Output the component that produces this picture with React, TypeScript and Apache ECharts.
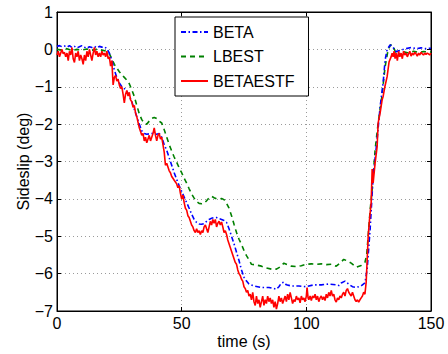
import React, { useEffect, useRef } from "react";
import * as echarts from "echarts";

const X_TICKS = [0, 50, 100, 150];
const Y_MIN = -7;
const Y_MAX = 1;

const BETA: [number, number][] = [
  [0, 0.08], [1, 0.1], [2, 0.07], [3, 0.09], [4, 0.06], [5, 0.1], [6, 0.05], [7, 0.08], [8, 0.04], [9, 0.07],
  [10, 0.1], [11, 0.06], [12, 0.03], [13, 0.07], [14, 0.05], [15, 0.08], [16, 0.04], [17, 0.08], [18, 0.06],
  [19, 0.07], [20, 0.02], [21, -0.1], [22, -0.3], [23, -0.55], [24, -0.75], [25, -0.9], [26, -1.0], [27, -1.05],
  [28, -1.12], [29, -1.25], [30, -1.4], [31, -1.6], [32, -1.8], [33, -2.0], [34, -2.18], [35, -2.25], [36, -2.27],
  [38, -2.25], [40, -2.27], [41, -2.25], [42, -2.35], [43, -2.55], [44, -2.7], [45, -2.9], [46, -3.1], [47, -3.3],
  [48, -3.48], [49, -3.65], [50, -3.8], [51, -3.95], [52, -4.1], [53, -4.25], [54, -4.41], [55, -4.55], [56, -4.63],
  [57, -4.67], [58, -4.68], [59, -4.66], [60, -4.6], [61, -4.55], [62, -4.52], [63, -4.5], [64, -4.5], [65, -4.53],
  [66, -4.55], [67, -4.58], [68, -4.63], [69, -4.8], [70, -5.0], [71, -5.2], [72, -5.43], [73, -5.65], [74, -5.9],
  [75, -6.1], [76, -6.2], [77, -6.28], [79, -6.33], [82, -6.37], [85, -6.37], [87, -6.4], [88, -6.42], [89, -6.35],
  [90, -6.25], [91, -6.23], [92, -6.3], [94, -6.33], [97, -6.33], [100, -6.35], [103, -6.3], [106, -6.3],
  [109, -6.28], [112, -6.3], [113, -6.32], [114, -6.25], [115.5, -6.2], [117, -6.28], [118.5, -6.35], [120, -6.37],
  [122, -6.33], [123.5, -6.25], [124.4, -5.88], [125.6, -4.8], [126.8, -3.4], [128.4, -2.4], [129.6, -1.53],
  [130.8, -0.9], [131.6, -0.28], [132.4, -0.01], [133.6, 0.12], [134.5, 0.08], [136, -0.06], [138, -0.02],
  [140, 0.02], [142, 0.05], [144, 0.02], [146, 0.04], [148, 0.02], [150, 0.03],
];

const LBEST: [number, number][] = [
  [0, 0.0], [2, -0.02], [4, 0.02], [6, -0.03], [8, 0.0], [10, -0.02], [12, 0.01], [14, -0.02], [16, 0.0],
  [18, -0.02], [20, -0.05], [21, -0.12], [22, -0.25], [23, -0.4], [24, -0.5], [25, -0.6], [26, -0.68], [27, -0.75],
  [28, -0.82], [29, -0.92], [30, -1.08], [31, -1.26], [32, -1.5], [33, -1.72], [34, -1.88], [35, -1.98], [36, -2.0],
  [37, -1.92], [38, -1.85], [39, -1.82], [40, -1.85], [41, -1.92], [42, -1.97], [43, -2.15], [44, -2.35],
  [45, -2.55], [46, -2.72], [47, -2.88], [48, -3.02], [49, -3.17], [50, -3.3], [51, -3.45], [52, -3.58],
  [53, -3.73], [54, -3.87], [55, -3.98], [56, -4.07], [57, -4.12], [58, -4.13], [59, -4.12], [60, -4.05],
  [61, -3.97], [62, -3.93], [63, -3.97], [64, -4.0], [65, -4.0], [66, -3.99], [67, -4.02], [68, -4.12],
  [69, -4.25], [70, -4.45], [71, -4.68], [72, -4.9], [73, -5.08], [74, -5.22], [75, -5.38], [76, -5.52],
  [77, -5.63], [78, -5.75], [80, -5.77], [82, -5.8], [84, -5.85], [86, -5.88], [88, -5.88], [89.5, -5.82],
  [91, -5.72], [92.5, -5.76], [94, -5.8], [96, -5.81], [98, -5.79], [100, -5.75], [102, -5.74], [104, -5.75],
  [106, -5.74], [108, -5.76], [110, -5.75], [112, -5.8], [113.5, -5.72], [115, -5.62], [116.5, -5.66],
  [118, -5.72], [120, -5.83], [122, -5.78], [123.5, -5.7], [124.2, -5.5], [124.8, -5.0], [125.6, -4.3],
  [126.4, -3.75], [127.6, -2.68], [128.8, -1.97], [130.3, -1.26], [131.6, -0.46], [132.8, -0.01], [133.8, 0.12],
  [134.8, 0.1], [135.6, -0.05], [136.4, -0.2], [137.5, -0.12], [139, -0.06], [141, -0.1], [143, -0.05],
  [145, -0.08], [147, -0.06], [150, -0.07],
];

const BETAESTF: [number, number][] = [
  [0, -0.15], [0.5, -0.05], [1, -0.2], [1.5, -0.1], [2, 0.0], [2.5, -0.12], [3, -0.08], [3.5, -0.2], [4, -0.1],
  [4.5, -0.3], [5, -0.05], [5.5, -0.15], [6, 0.05], [6.5, -0.25], [7, -0.35], [7.5, -0.1], [8, -0.2], [8.5, -0.05],
  [9, -0.3], [9.5, -0.15], [10, -0.25], [10.5, -0.4], [11, -0.15], [11.5, -0.3], [12, -0.05], [12.5, -0.2],
  [13, 0.0], [13.5, -0.15], [14, -0.3], [14.5, -0.1], [15, 0.05], [15.5, -0.15], [16, -0.05], [16.5, -0.2],
  [17, -0.1], [17.5, -0.2], [18, -0.05], [18.5, -0.15], [19, -0.1], [19.5, -0.2], [20, -0.05], [20.5, -0.25],
  [21, -0.2], [21.5, -0.45], [22, -0.3], [22.5, -0.95], [23, -0.75], [23.5, -0.7], [24, -0.85], [24.5, -0.8],
  [25, -0.95], [25.5, -1.05], [26, -1.0], [26.5, -1.2], [27, -1.43], [27.5, -1.2], [28, -1.1], [28.5, -1.25],
  [29, -1.15], [29.5, -1.35], [30, -1.4], [30.5, -1.55], [31, -1.5], [31.5, -1.7], [32, -1.8], [32.5, -1.95],
  [33, -2.1], [33.5, -2.2], [34, -2.3], [34.5, -2.25], [35, -2.45], [35.5, -2.35], [36, -2.5], [36.5, -2.4],
  [37, -2.3], [37.5, -2.45], [38, -2.35], [38.5, -2.25], [39, -2.1], [39.5, -2.3], [40, -2.45], [40.5, -2.3],
  [41, -2.25], [41.5, -2.4], [42, -2.35], [42.5, -2.55], [43, -2.75], [43.5, -3.1], [44, -3.05], [44.5, -3.15],
  [45, -3.25], [45.5, -3.3], [46, -3.4], [46.5, -3.45], [47, -3.5], [47.5, -3.55], [48, -3.6], [48.5, -3.7],
  [49, -3.65], [49.5, -3.85], [50, -4.0], [50.5, -3.9], [51, -4.1], [51.5, -4.25], [52, -4.3], [52.5, -4.45],
  [53, -4.5], [53.5, -4.6], [54, -4.7], [54.5, -4.75], [55, -4.85], [55.5, -4.9], [56, -4.8], [56.5, -4.9],
  [57, -4.85], [57.5, -4.95], [58, -4.85], [58.5, -4.9], [59, -4.75], [59.5, -4.7], [60, -4.8], [60.5, -4.9],
  [61, -4.75], [61.5, -4.6], [62, -4.7], [62.5, -4.55], [63, -4.65], [63.5, -4.55], [64, -4.75], [64.5, -4.65],
  [65, -4.6], [65.5, -4.7], [66, -4.62], [66.5, -4.75], [67, -4.9], [67.5, -4.85], [68, -4.95], [68.5, -5.1],
  [69, -5.2], [69.5, -5.3], [70, -5.4], [70.5, -5.5], [71, -5.6], [71.5, -5.7], [72, -5.75], [72.5, -5.9],
  [73, -6.0], [73.5, -6.05], [74, -6.15], [74.5, -6.2], [75, -6.35], [75.5, -6.4], [76, -6.5], [76.5, -6.45],
  [77, -6.6], [77.5, -6.55], [78, -6.7], [78.5, -6.5], [79, -6.75], [79.5, -6.85], [80, -6.6], [80.5, -6.8],
  [81, -6.7], [81.5, -6.9], [82, -6.75], [82.5, -6.6], [83, -6.85], [83.5, -6.7], [84, -6.8], [84.5, -6.6],
  [85, -6.75], [85.5, -6.65], [86, -6.8], [86.5, -6.7], [87, -6.9], [87.5, -6.75], [88, -6.95], [88.5, -6.8],
  [89, -6.6], [89.5, -6.75], [90, -6.65], [90.5, -6.8], [91, -6.7], [91.5, -6.6], [92, -6.75], [92.5, -6.55],
  [93, -6.7], [93.5, -6.5], [94, -6.65], [94.5, -6.8], [95, -6.7], [95.5, -6.75], [96, -6.6], [96.5, -6.7],
  [97, -6.65], [97.5, -6.78], [98, -6.6], [98.5, -6.7], [99, -6.65], [99.5, -6.75], [100, -6.6], [100.3, -6.37],
  [100.7, -6.65], [101, -6.7], [101.5, -6.6], [102, -6.72], [102.5, -6.6], [103, -6.65], [103.5, -6.55],
  [104, -6.7], [104.5, -6.6], [105, -6.75], [105.5, -6.65], [106, -6.6], [106.5, -6.7], [107, -6.62],
  [107.5, -6.72], [108, -6.55], [108.5, -6.65], [109, -6.5], [109.5, -6.6], [110, -6.45], [110.5, -6.6],
  [111, -6.55], [111.5, -6.7], [112, -6.76], [112.5, -6.65], [113, -6.7], [113.5, -6.6], [114, -6.65],
  [114.5, -6.55], [115, -6.5], [115.5, -6.6], [116, -6.45], [116.5, -6.4], [117, -6.5], [117.5, -6.55],
  [118, -6.6], [118.5, -6.5], [119, -6.6], [119.5, -6.7], [120, -6.75], [120.5, -6.7], [121, -6.76],
  [121.5, -6.7], [122, -6.65], [122.5, -6.6], [123, -6.5], [123.5, -6.55], [124, -6.23], [124.4, -5.62],
  [124.8, -5.0], [125.4, -4.5], [126, -4.1], [126.4, -3.2], [126.8, -3.57], [127.6, -3.03], [128.4, -2.6],
  [128.8, -1.97], [129.6, -1.7], [130.4, -1.35], [130.8, -1.26], [131.5, -1.0], [132.4, -0.73], [133.2, -0.33],
  [134, -0.2], [134.4, -0.1], [134.8, -0.2], [135.2, -0.05], [135.6, -0.25], [136, -0.1], [136.5, -0.3],
  [137, -0.05], [137.5, -0.2], [138, -0.1], [138.5, -0.25], [139, -0.05], [139.5, -0.15], [140, -0.1],
  [140.5, -0.2], [141, -0.12], [141.5, -0.05], [142, -0.18], [142.5, -0.1], [143, -0.15], [143.5, -0.08],
  [144, -0.12], [144.5, -0.18], [145, -0.1], [145.5, -0.15], [146, -0.08], [146.5, -0.12], [147, -0.15],
  [147.5, -0.1], [148, -0.14], [148.5, -0.1], [149, -0.12], [149.5, -0.15], [150, -0.1],
];

const FONT = "Liberation Sans, Arial, Helvetica, sans-serif";
const minus = (v: number) => String(v).replace("-", "\u2212");

export default function App() {
  const ref = useRef<HTMLDivElement>(null);
  useEffect(() => {
    if (!ref.current) return;
    const chart = echarts.init(ref.current, undefined, { renderer: "svg" });
    const gridLine = { show: true, lineStyle: { color: "#9a9a9a", width: 1, type: [1, 3] as any } };
    const baseAxis = {
      axisLine: { show: true, onZero: false, lineStyle: { color: "#000", width: 1 } },
      axisTick: { show: true, inside: true, length: 4, lineStyle: { color: "#000" } },
    };
    chart.setOption({
      animation: false,
      backgroundColor: "#fff",
      grid: { left: 57, top: 12, right: 17, bottom: 42, show: true, borderColor: "#000", borderWidth: 1 },
      legend: {
        orient: "vertical",
        left: 175,
        top: 17,
        padding: [7, 14, 7, 5],
        itemWidth: 27,
        itemHeight: 14,
        itemGap: 8.5,
        borderColor: "#000",
        borderWidth: 1,
        backgroundColor: "#fff",
        itemStyle: { opacity: 0 },
        textStyle: { fontFamily: FONT, fontSize: 16, color: "#000" },
        data: ["BETA", "LBEST", "BETAESTF"],
      },
      xAxis: [
        {
          type: "value",
          min: 0,
          max: 150,
          interval: 50,
          ...baseAxis,
          splitLine: gridLine,
          axisLabel: { fontFamily: FONT, fontSize: 16, color: "#000", margin: 4, formatter: (v: number) => (X_TICKS.includes(v) ? minus(v) : "") },
          name: "time (s)",
          nameLocation: "middle",
          nameGap: 22,
          nameMoveOverlap: false,
          nameTextStyle: { fontFamily: FONT, fontSize: 16, color: "#000" },
        },
        {
          type: "value",
          position: "top",
          min: 0,
          max: 150,
          interval: 50,
          ...baseAxis,
          splitLine: { show: false },
          axisLabel: { show: false },
        },
      ],
      yAxis: [
        {
          type: "value",
          min: Y_MIN,
          max: Y_MAX,
          interval: 1,
          ...baseAxis,
          splitLine: gridLine,
          axisLabel: { fontFamily: FONT, fontSize: 16, color: "#000", margin: 4, formatter: (v: number) => minus(v) },
          name: "Sideslip (deg)",
          nameLocation: "middle",
          nameGap: 26,
          nameMoveOverlap: false,
          nameTextStyle: { fontFamily: FONT, fontSize: 16, color: "#000" },
        },
        {
          type: "value",
          position: "right",
          min: Y_MIN,
          max: Y_MAX,
          interval: 1,
          ...baseAxis,
          splitLine: { show: false },
          axisLabel: { show: false },
        },
      ],
      series: [
        {
          name: "BETA",
          type: "line",
          data: BETA,
          symbol: "none",
          z: 3,
          lineStyle: { color: "#0000ff", width: 1.6, type: [5, 2.5, 1.5, 2.5] as any },
          itemStyle: { color: "#0000ff" },
        },
        {
          name: "LBEST",
          type: "line",
          data: LBEST,
          symbol: "none",
          z: 2,
          lineStyle: { color: "#008000", width: 1.6, type: [5, 4] as any },
          itemStyle: { color: "#008000" },
        },
        {
          name: "BETAESTF",
          type: "line",
          data: BETAESTF,
          symbol: "none",
          z: 4,
          lineStyle: { color: "#ff0000", width: 1.6 },
          itemStyle: { color: "#ff0000" },
        },
      ],
    });
    return () => chart.dispose();
  }, []);
  return <div ref={ref} style={{ position: "absolute", left: 0, top: 0, width: 448, height: 354 }} />;
}
